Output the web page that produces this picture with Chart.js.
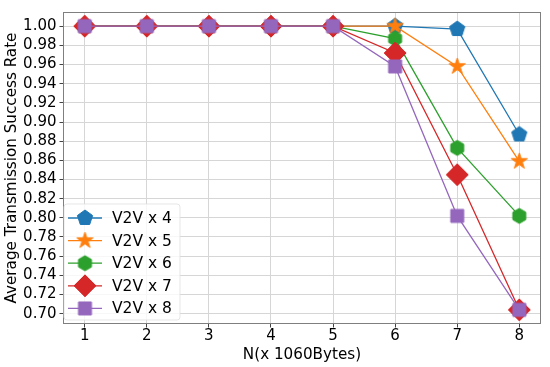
<!DOCTYPE html>
<html>
<head>
<meta charset="utf-8">
<script src="https://cdn.jsdelivr.net/npm/chart.js@4"></script>
<style>
  html, body { margin: 0; padding: 0; background: #fff; }
  #wrap { width: 550px; height: 367px; }
</style>
</head>
<body>
<div id="wrap"><canvas id="c" width="550" height="367"></canvas></div>
<script>
// data
const nSizes = [1, 2, 3, 4, 5, 6, 7, 8];
const v2v4 = [1.0, 1.0, 1.0, 1.0, 1.0, 1.0, 0.997, 0.887];
const v2v5 = [1.0, 1.0, 1.0, 1.0, 1.0, 1.0, 0.958, 0.859];
const v2v6 = [1.0, 1.0, 1.0, 1.0, 1.0, 0.987, 0.873, 0.802];
const v2v7 = [1.0, 1.0, 1.0, 1.0, 1.0, 0.972, 0.845, 0.704];
const v2v8 = [1.0, 1.0, 1.0, 1.0, 1.0, 0.958, 0.802, 0.704];
const seriesNames = ['V2V x 4', 'V2V x 5', 'V2V x 6', 'V2V x 7', 'V2V x 8'];
const yTicks = [0.70, 0.72, 0.74, 0.76, 0.78, 0.80, 0.82, 0.84, 0.86, 0.88,
                0.90, 0.92, 0.94, 0.96, 0.98, 1.00];

const FONT = "'DejaVu Sans', sans-serif";

// filled marker shapes like matplotlib's p * h D s
function makeMarker(shape, color, r) {
  const size = Math.ceil(2 * r + 4);
  const cv = document.createElement('canvas');
  cv.width = size; cv.height = size;
  const ctx = cv.getContext('2d');
  const c = size / 2;
  let pts = [];
  if (shape === 'pentagon') {
    for (let k = 0; k < 5; k++) {
      const a = (-90 + 72 * k) * Math.PI / 180;
      pts.push([c + r * Math.cos(a), c + r * Math.sin(a)]);
    }
  } else if (shape === 'star') {
    for (let k = 0; k < 10; k++) {
      const a = (-90 + 36 * k) * Math.PI / 180;
      const rr = k % 2 ? r * 0.382 : r;
      pts.push([c + rr * Math.cos(a), c + rr * Math.sin(a)]);
    }
  } else if (shape === 'hexagon') {
    for (let k = 0; k < 6; k++) {
      const a = (-90 + 60 * k) * Math.PI / 180;
      pts.push([c + r * Math.cos(a), c + r * Math.sin(a)]);
    }
  } else if (shape === 'diamond') {
    pts = [[c, c - r], [c + r, c], [c, c + r], [c - r, c]];
  } else {
    pts = [[c - r, c - r], [c + r, c - r], [c + r, c + r], [c - r, c + r]];
  }
  ctx.beginPath();
  pts.forEach((p, i) => i ? ctx.lineTo(p[0], p[1]) : ctx.moveTo(p[0], p[1]));
  ctx.closePath();
  ctx.fillStyle = color;
  ctx.strokeStyle = color;
  ctx.lineWidth = 1;
  ctx.fill();
  ctx.stroke();
  return cv;
}

const colors = ['#1f77b4', '#ff7f0e', '#2ca02c', '#d62728', '#9467bd'];
const markers = [
  makeMarker('pentagon', colors[0], 8),
  makeMarker('star', colors[1], 8.5),
  makeMarker('hexagon', colors[2], 7.5),
  makeMarker('diamond', colors[3], 11),
  makeMarker('square', colors[4], 6.5)
];
const seriesValues = [v2v4, v2v5, v2v6, v2v7, v2v8];

const datasets = seriesValues.map((vals, i) => ({
  label: seriesNames[i],
  data: nSizes.map((n, j) => ({ x: n, y: vals[j] })),
  borderColor: colors[i],
  backgroundColor: colors[i],
  borderWidth: 1.3,
  pointStyle: markers[i],
  order: 5 - i
}));

// plot frame + legend box drawn on top
const framePlugin = {
  id: 'frame',
  afterDraw(chart) {
    const { ctx, chartArea: a } = chart;
    ctx.save();
    ctx.strokeStyle = '#7f7f7f';
    ctx.lineWidth = 1;
    ctx.strokeRect(a.left + 0.5, a.top + 0.5, a.right - a.left - 1, a.bottom - a.top - 1);

    // legend
    const bx = 64, by = 204, bw = 116, bh = 116;
    ctx.globalAlpha = 0.8;
    ctx.fillStyle = '#ffffff';
    ctx.beginPath();
    ctx.roundRect(bx, by, bw, bh, 3);
    ctx.fill();
    ctx.strokeStyle = '#e0e0e0';
    ctx.stroke();
    ctx.globalAlpha = 1;
    ctx.font = '15.5px ' + FONT;
    ctx.textBaseline = 'middle';
    seriesNames.forEach((name, i) => {
      const y = by + 14 + i * 22.6;
      ctx.strokeStyle = colors[i];
      ctx.lineWidth = 1.3;
      ctx.beginPath();
      ctx.moveTo(bx + 4, y);
      ctx.lineTo(bx + 38, y);
      ctx.stroke();
      const m = markers[i];
      ctx.drawImage(m, bx + 21 - m.width / 2, y - m.height / 2);
      ctx.fillStyle = '#000';
      ctx.fillText(name, bx + 48, y + 1);
    });
    ctx.restore();
  }
};

new Chart(document.getElementById('c'), {
  type: 'line',
  data: { datasets },
  options: {
    responsive: false,
    animation: false,
    devicePixelRatio: 1,
    layout: { padding: { left: 0, top: 9, right: 9, bottom: 0 } },
    plugins: { legend: { display: false }, tooltip: { enabled: false } },
    scales: {
      x: {
        type: 'linear',
        min: 0.65,
        max: 8.35,
        afterBuildTicks: s => { s.ticks = nSizes.map(v => ({ value: v })); },
        afterFit: s => { s.height = 43; },
        grid: { color: '#d6d6d6', tickColor: '#444', tickLength: 3.5, lineWidth: 1 },
        border: { display: false },
        ticks: { color: '#000', font: { family: FONT, size: 15 }, padding: 0,
                 maxRotation: 0, autoSkip: false },
        title: { display: true, text: 'N(x 1060Bytes)', color: '#000',
                 font: { family: FONT, size: 15.2 }, padding: { top: 0, bottom: 3 } }
      },
      y: {
        type: 'linear',
        min: 0.6892,
        max: 1.0148,
        afterBuildTicks: s => { s.ticks = yTicks.map(v => ({ value: v })); },
        afterFit: s => { s.width = 63; },
        grid: { color: '#d6d6d6', tickColor: '#444', tickLength: 3.5, lineWidth: 1 },
        border: { display: false },
        ticks: { color: '#000', font: { family: FONT, size: 15 }, padding: 3,
                 autoSkip: false, callback: v => v.toFixed(2) },
        title: { display: true, text: 'Average Transmission Success Rate', color: '#000',
                 font: { family: FONT, size: 15.2 }, padding: { top: 3, bottom: 0 } }
      }
    }
  },
  plugins: [framePlugin]
});
</script>
</body>
</html>
